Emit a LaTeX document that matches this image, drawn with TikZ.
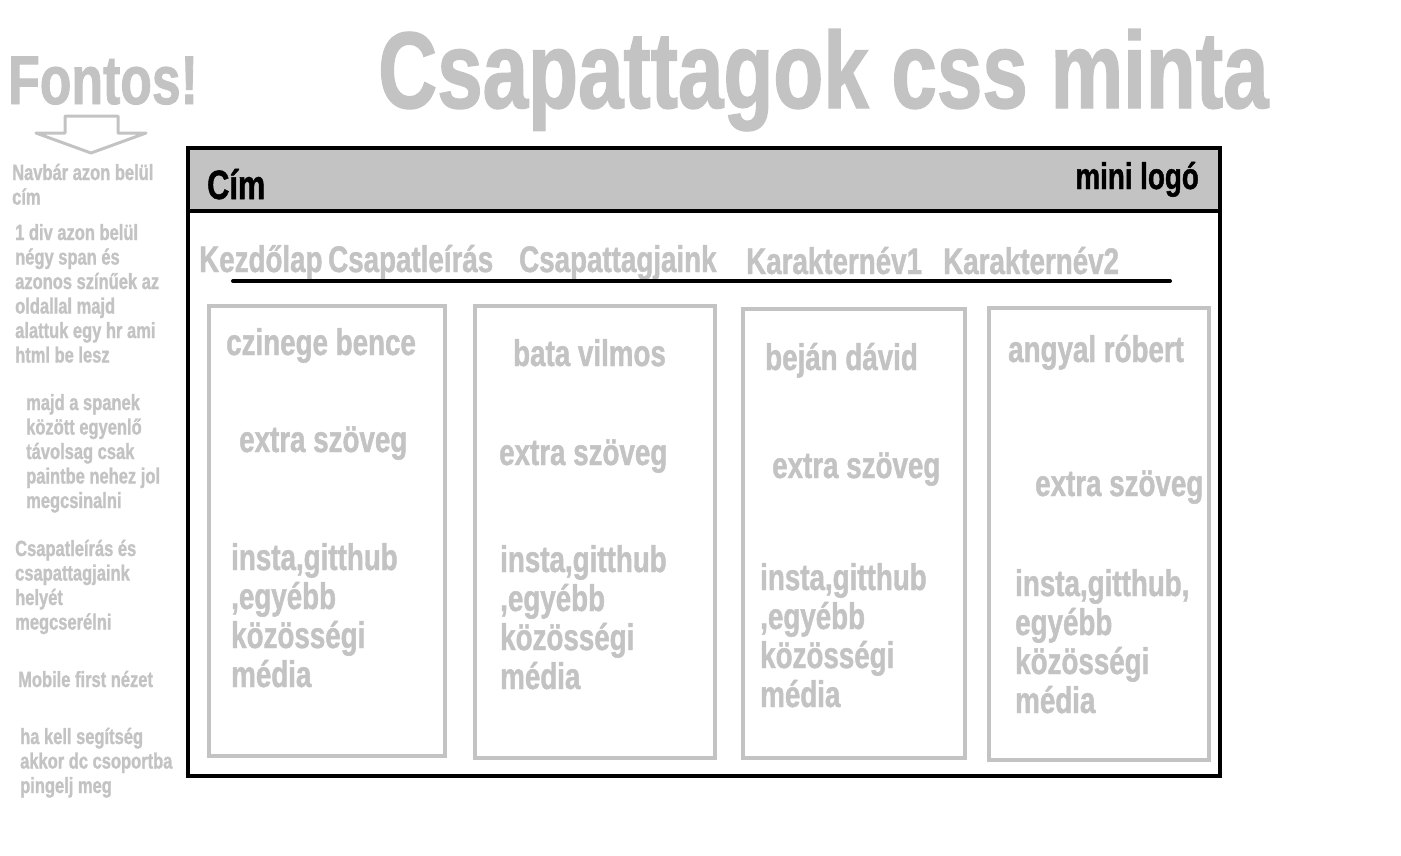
\documentclass[tikz,border=0pt]{standalone}
\usepackage{fontspec}
\usepackage{tikz}
\usetikzlibrary{positioning}
\newfontfamily\impfont[FakeStretch=0.75,FakeBold=1.2]{Liberation Sans Bold}
\definecolor{lightgrey}{RGB}{195,195,195}
\tikzset{
  cardbox/.style={rectangle, draw=lightgrey, line width=4pt, inner sep=0pt},
  bigtxt/.style={anchor=base west, inner sep=0pt, text=lightgrey, font=\impfont\fontsize{#1}{#1}\selectfont},
  navtxt/.style={anchor=base west, inner sep=0pt, text=lightgrey, font=\impfont\fontsize{37}{39}\selectfont},
  % multi-line texts: base = baseline of the last line
  cardtxt/.style={anchor=base west, inner sep=0pt, text=lightgrey, align=left, font=\impfont\fontsize{37}{39}\selectfont},
  notetxt/.style={anchor=base west, inner sep=0pt, text=lightgrey, align=left, font=\impfont\fontsize{22}{24.5}\selectfont},
}

\begin{document}
\begin{tikzpicture}[x=1pt, y=-1pt]
\useasboundingbox (0,0) rectangle (1401,855);
% headings
\node[bigtxt=109] (title) at (378,108) {Csapattagok css minta};
\node[bigtxt=69] (fontos) at (8,104) {Fontos!};
\draw[lightgrey, line width=3pt, line join=round] (65,116) -- (118,116) -- (118,133) -- (146,133) -- (91,153) -- (36,133) -- (65,133) -- cycle;
% notes on the left
\node[notetxt] (note1) at (12,204.5) {Navbár azon belül\\cím};
\node[notetxt] (note2) at (15,362.5) {1 div azon belül\\négy span és\\azonos színűek az\\oldallal majd\\alattuk egy hr ami\\html be lesz};
\node[notetxt] (note3) at (26,508) {majd a spanek\\között egyenlő\\távolsag csak\\paintbe nehez jol\\megcsinalni};
\node[notetxt] (note4) at (15,629.5) {Csapatleírás és\\csapattagjaink\\helyét\\megcserélni};
\node[notetxt] (note5) at (18,687) {Mobile first nézet};
\node[notetxt] (note6) at (20,793) {ha kell segítség\\akkor dc csoportba\\pingelj meg};
% page frame and navbar
\node[draw, line width=4pt, inner sep=0pt, minimum width=1032, minimum height=628] (page) at (704,462) {};
\node[draw, fill=lightgrey, line width=4pt, inner sep=0pt, minimum width=1032, minimum height=63] (navbar) at (704,179.5) {};
\node[anchor=base west, inner sep=0pt, font=\impfont\fontsize{41}{41}\selectfont] (cim) at (207,199) {Cím};
\node[anchor=base east, inner sep=0pt, font=\impfont\fontsize{37}{37}\selectfont] (logo) at (1199,189) {mini logó};
% menu
\node[navtxt] (menu1) at (199,272) {Kezdőlap};
\node[navtxt] (menu2) at (328,272) {Csapatleírás};
\node[navtxt] (menu3) at (519,272) {Csapattagjaink};
\node[navtxt] (menu4) at (746,274) {Karakternév1};
\node[navtxt] (menu5) at (943,274) {Karakternév2};
\coordinate (hrL) at (233,281);
\coordinate (hrR) at (1170,281);
\draw[line width=4pt, line cap=round] (hrL) -- (hrR);
% cards
\node[cardbox, minimum width=236, minimum height=450] (card1) at (327,531) {};
\node[cardbox, minimum width=240, minimum height=452] (card2) at (595,532) {};
\node[cardbox, minimum width=222, minimum height=449] (card3) at (854,533.5) {};
\node[cardbox, minimum width=220, minimum height=452] (card4) at (1099,534) {};
\node[cardtxt] (name1) at (226,355) {czinege bence};
\node[cardtxt] (extra1) at (239,452) {extra szöveg};
\node[cardtxt] (links1) at (231,687) {insta,gitthub\\,egyébb\\közösségi\\média};
\node[cardtxt] (name2) at (513,366) {bata vilmos};
\node[cardtxt] (extra2) at (499,465) {extra szöveg};
\node[cardtxt] (links2) at (500,689) {insta,gitthub\\,egyébb\\közösségi\\média};
\node[cardtxt] (name3) at (765,370) {beján dávid};
\node[cardtxt] (extra3) at (772,478) {extra szöveg};
\node[cardtxt] (links3) at (760,707) {insta,gitthub\\,egyébb\\közösségi\\média};
\node[cardtxt] (name4) at (1008,362) {angyal róbert};
\node[cardtxt] (extra4) at (1035,496) {extra szöveg};
\node[cardtxt] (links4) at (1015,713) {insta,gitthub,\\egyébb\\közösségi\\média};
\end{tikzpicture}
\end{document}
